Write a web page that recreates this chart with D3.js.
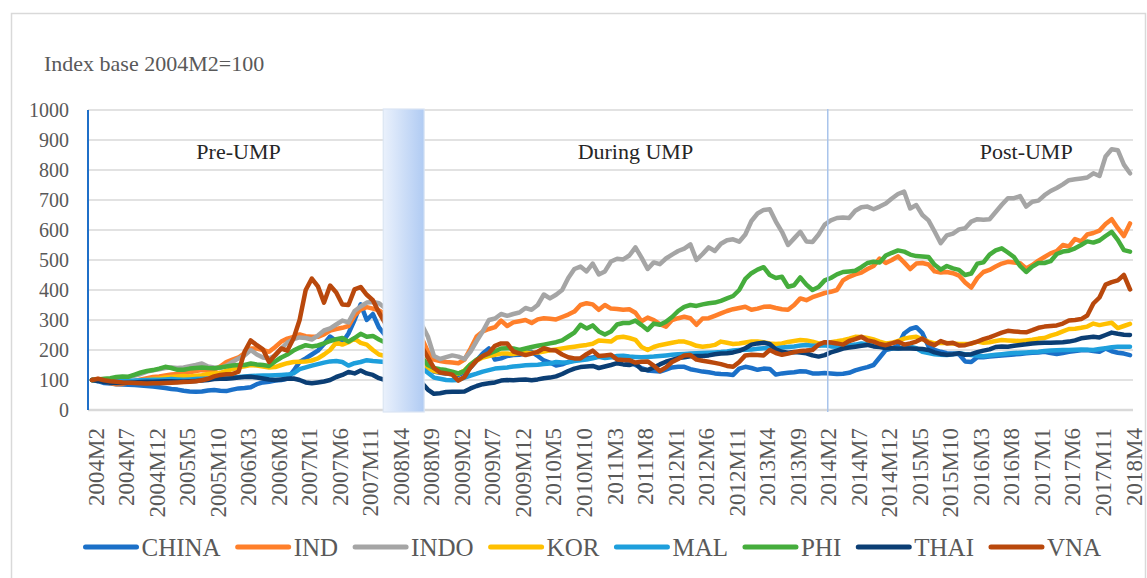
<!DOCTYPE html>
<html>
<head>
<meta charset="utf-8">
<script src="https://cdnjs.cloudflare.com/ajax/libs/d3/7.8.5/d3.min.js"></script>
<style>
body { margin: 0; background: #fff; }
svg text { font-family: "Liberation Serif", "Times New Roman", serif; }
</style>
</head>
<body>
<div id="chart"></div>
<script>
// monthly categories 2004M2 .. 2018M4
var months = [];
for (var yr = 2004; yr <= 2018; yr++) {
	for (var m = 1; m <= 12; m++) {
		if ((yr === 2004 && m < 2) || (yr === 2018 && m > 4)) continue;
		months.push(yr + 'M' + m);
	}
}
var tickLabels = ['2004M2', '2004M7', '2004M12', '2005M5', '2005M10', '2006M3', '2006M8', '2007M1', '2007M6',
	'2007M11', '2008M4', '2008M9', '2009M2', '2009M7', '2009M12', '2010M5', '2010M10', '2011M3', '2011M8',
	'2012M1', '2012M6', '2012M11', '2013M4', '2013M9', '2014M2', '2014M7', '2014M12', '2015M5', '2015M10',
	'2016M3', '2016M8', '2017M1', '2017M6', '2017M11', '2018M4'];
var yTicks = [0, 100, 200, 300, 400, 500, 600, 700, 800, 900, 1000];
var periodLabels = ['Pre-UMP', 'During UMP', 'Post-UMP'];
var periodAt = ['2006M2', '2011M7', '2016M11'];
var names = ['CHINA', 'IND', 'INDO', 'KOR', 'MAL', 'PHI', 'THAI', 'VNA'];
var colors = ['#1b70c8', '#ff7f2a', '#a5a5a5', '#ffc000', '#1e9fdc', '#45ad3c', '#0b3e74', '#b9480c'];

var china = [100,96,90,88,86,85,84,83,82,80,78,76,73,70,68,64,62,61,62,65,
	67,64,63,68,72,73,76,86,92,94,98,100,105,130,160,172,185,198,220,245,
	230,225,255,300,352,300,320,275,250,230,210,190,175,165,160,150,128,124,122,120,
	117,125,142,165,188,205,168,172,180,183,184,190,194,180,165,158,148,152,160,166,
	170,172,175,178,176,178,172,168,160,150,140,132,130,128,135,142,144,144,136,132,
	128,126,122,120,119,117,138,144,140,134,138,137,118,122,124,126,129,128,122,122,
	123,122,120,121,124,132,138,143,150,175,200,205,215,255,270,276,256,212,200,194,
	189,188,186,162,160,176,176,178,180,182,183,185,187,189,191,192,194,190,187,190,
	194,197,199,200,197,194,205,196,191,188,183];
var ind = [100,103,96,90,86,87,92,97,102,106,110,112,115,118,120,122,126,130,133,132,
	134,145,160,168,175,190,205,205,200,194,210,228,238,244,252,246,244,244,252,265,
	270,274,280,315,335,343,338,332,320,300,290,280,270,262,240,195,168,163,160,158,
	156,168,205,245,262,270,276,298,280,292,296,300,290,302,306,304,302,310,318,328,
	350,356,352,334,350,338,337,334,336,324,296,308,300,286,278,300,306,311,306,284,
	305,306,314,322,330,336,340,344,334,338,344,345,340,336,334,350,372,366,376,383,
	390,394,400,432,444,452,458,470,480,505,490,500,512,492,470,488,490,485,462,458,
	460,456,448,425,408,440,460,467,478,488,494,492,489,472,483,498,510,522,530,550,
	545,570,562,585,590,598,620,636,606,580,622];
var indo = [100,102,100,98,100,104,110,115,120,128,132,136,140,142,140,142,146,150,155,145,
	142,140,148,160,172,182,200,185,175,172,182,205,225,236,242,240,235,248,265,272,
	285,298,292,330,345,358,360,356,340,325,318,312,308,305,285,245,180,170,176,182,
	178,170,195,230,262,300,305,320,314,320,325,340,334,350,385,372,384,400,440,470,
	478,462,488,452,462,495,504,502,515,542,508,470,492,486,505,518,530,538,552,500,
	520,542,530,554,566,569,561,585,630,655,667,669,628,594,550,572,594,562,560,585,
	618,632,640,642,640,664,676,678,669,678,688,705,720,728,672,683,650,632,595,556,
	582,588,602,606,628,636,634,636,660,684,706,706,713,678,694,698,716,730,740,752,
	766,769,772,775,789,780,845,869,866,818,789];
var kor = [100,98,96,94,93,92,94,96,98,100,103,105,108,110,112,113,112,114,116,120,
	122,124,130,136,142,146,150,148,145,142,143,150,156,160,161,162,165,172,185,200,
	225,218,226,238,224,218,200,185,180,178,176,175,174,176,170,140,130,126,124,122,
	121,132,152,165,175,180,184,188,188,187,190,191,190,192,195,199,202,205,208,211,
	214,217,221,232,230,228,242,244,240,234,210,200,210,216,220,224,228,228,222,214,
	211,213,217,228,224,220,222,225,228,228,226,222,220,222,227,230,233,232,228,222,
	222,226,229,233,238,244,243,240,235,228,222,224,230,238,242,244,236,228,222,224,
	223,222,220,220,221,228,224,226,230,233,232,231,230,232,234,238,240,248,254,262,
	270,271,274,278,288,283,287,291,273,280,287];
var mal = [100,99,98,97,96,96,97,98,99,100,101,101,102,103,102,101,102,103,104,105,
	106,107,108,109,110,112,113,114,115,115,116,117,118,122,136,142,148,153,158,162,
	163,160,148,156,160,166,163,162,160,158,155,152,150,146,140,124,108,104,100,99,
	100,108,115,121,128,133,138,140,142,145,147,149,150,151,153,155,160,158,159,163,
	166,168,172,177,173,176,180,181,178,177,176,177,178,180,182,184,186,187,188,189,
	190,191,192,193,195,198,200,201,202,204,206,206,205,208,210,212,215,217,214,214,
	216,212,211,213,215,218,222,219,217,212,207,206,205,208,211,206,194,190,186,184,
	183,186,189,186,183,181,179,182,184,186,188,190,191,192,193,194,197,198,199,200,
	200,201,202,201,200,203,206,209,211,211,211];
var phi = [100,102,104,106,110,112,111,118,125,130,133,138,144,140,134,134,138,140,142,140,
	139,142,145,148,150,150,155,152,150,147,162,175,185,198,208,216,212,215,222,230,
	236,240,228,240,254,244,247,235,225,215,208,200,195,190,175,150,140,136,133,128,
	122,130,152,168,180,188,196,205,206,205,200,205,210,214,218,222,226,232,245,258,
	284,272,282,262,252,262,285,290,290,298,283,267,288,284,294,310,330,344,350,347,
	352,356,358,364,372,380,400,437,456,468,476,450,440,444,411,416,442,418,400,410,
	432,440,452,460,462,464,476,490,494,492,515,524,532,528,518,513,512,510,484,468,
	480,472,467,450,455,488,492,518,532,539,525,510,480,460,478,490,490,496,520,528,
	531,539,550,562,558,565,580,594,567,533,528];
var thai = [100,97,93,91,90,90,91,92,93,94,94,95,96,96,95,95,96,97,98,100,
	103,104,104,106,108,110,111,108,105,102,100,102,104,105,100,92,89,92,95,100,
	110,117,127,122,132,122,117,106,100,98,96,95,94,94,91,68,54,56,60,61,
	61,62,72,80,86,89,92,98,100,99,101,102,99,102,106,108,112,120,130,138,
	143,145,147,140,145,150,156,152,150,156,135,133,142,152,161,167,173,176,179,180,
	180,182,186,188,189,192,197,206,218,222,224,220,202,194,191,193,192,189,182,178,
	183,192,198,205,208,211,214,217,212,210,207,206,205,205,205,204,203,200,192,187,
	184,186,189,184,186,193,198,202,210,212,211,214,217,219,222,223,224,224,225,226,
	228,232,239,242,244,242,250,258,254,251,250];
var vna = [100,104,99,96,94,92,91,90,89,88,89,89,90,91,92,93,94,96,99,104,
	112,117,119,120,128,195,232,216,202,160,183,205,198,238,300,400,438,412,358,415,
	392,352,350,402,410,384,366,325,290,265,245,230,215,200,210,175,140,125,122,118,
	98,110,142,165,180,190,214,222,222,195,189,183,188,194,206,200,198,185,176,172,
	172,186,198,180,182,184,168,167,166,158,161,162,148,130,142,160,170,182,183,168,
	164,161,157,153,147,144,160,182,184,183,182,200,190,184,188,193,197,198,200,218,
	226,225,222,218,230,236,244,232,228,220,216,222,228,218,222,228,238,224,216,230,
	222,224,215,216,222,228,236,242,250,258,264,262,260,259,266,274,278,280,282,288,
	298,300,303,315,355,375,418,426,432,450,402];
var seriesValues = [china, ind, indo, kor, mal, phi, thai, vna];

var W = 1147, H = 578;
var plot = { left: 88, right: 1133, top: 110, bottom: 410 };

var svg = d3.select('#chart').append('svg').attr('width', W).attr('height', H);

// chart area border
svg.append('rect')
	.attr('x', 11.5).attr('y', 13.5)
	.attr('width', 1134).attr('height', 600)
	.attr('fill', 'none').attr('stroke', '#d9d9d9').attr('stroke-width', 1.5);

var x = d3.scalePoint().domain(months).range([92, 1130]);
var step = x.step();
var y = d3.scaleLinear().domain([0, 1000]).range([plot.bottom, plot.top]);

svg.append('text')
	.attr('x', 44).attr('y', 70.5)
	.attr('fill', '#595959').style('font-size', '22px')
	.text('Index base 2004M2=100');

// gridlines
svg.append('g').selectAll('line').data(yTicks).join('line')
	.attr('x1', plot.left).attr('x2', plot.right)
	.attr('y1', d => y(d)).attr('y2', d => y(d))
	.attr('stroke', '#d9d9d9')
	.attr('stroke-width', d => d === 0 ? 2.5 : 1.5);

// y tick labels
svg.append('g').selectAll('text').data(yTicks).join('text')
	.attr('x', 69).attr('y', d => y(d))
	.attr('dy', '0.35em')
	.attr('text-anchor', 'end')
	.attr('fill', '#595959').style('font-size', '20px')
	.text(d => d);

// left axis line
svg.append('line')
	.attr('x1', plot.left).attr('x2', plot.left)
	.attr('y1', plot.top).attr('y2', plot.bottom)
	.attr('stroke', '#1f6fc8').attr('stroke-width', 2);

// x tick labels (rotated)
svg.append('g').selectAll('text').data(tickLabels).join('text')
	.attr('transform', d => 'translate(' + x(d) + ',428) rotate(-90)')
	.attr('dy', '0.5em')
	.attr('text-anchor', 'end')
	.attr('fill', '#595959').style('font-size', '23px')
	.text(d => d);

// series lines
var line = d3.line().x((d, i) => x(months[i])).y(d => y(d));
svg.append('g').selectAll('path').data(seriesValues).join('path')
	.attr('d', d => line(d))
	.attr('fill', 'none')
	.attr('stroke', (d, i) => colors[i])
	.attr('stroke-width', 4.5)
	.attr('stroke-linejoin', 'round')
	.attr('stroke-linecap', 'round');

// crisis band
var defs = svg.append('defs');
var grad = defs.append('linearGradient').attr('id', 'bandGrad');
grad.append('stop').attr('offset', '0%').attr('stop-color', '#eaf1fc');
grad.append('stop').attr('offset', '100%').attr('stop-color', '#b0cbf3');
var bandX0 = x('2008M2') - 0.3 * step, bandX1 = x('2008M8') + 0.4 * step;
svg.append('rect')
	.attr('x', bandX0).attr('y', plot.top - 1)
	.attr('width', bandX1 - bandX0).attr('height', plot.bottom - plot.top + 3)
	.attr('fill', 'url(#bandGrad)')
	.attr('stroke', '#dbe5f3').attr('stroke-width', 1.2);

// 2014M2 divider
var divX = x('2014M2') + 0.5 * step;
svg.append('line')
	.attr('x1', divX).attr('x2', divX)
	.attr('y1', plot.top - 1).attr('y2', plot.bottom + 2)
	.attr('stroke', '#a9c4eb').attr('stroke-width', 1.5);

// period labels
svg.append('g').selectAll('text').data(periodLabels).join('text')
	.attr('x', (d, i) => x(periodAt[i]))
	.attr('y', 159)
	.attr('text-anchor', 'middle')
	.attr('fill', '#262626').style('font-size', '22px')
	.text(d => d);

// legend
var legend = svg.append('g');
var lx = 83.5;
names.forEach(function(n, i) {
	legend.append('line')
		.attr('x1', lx + 2).attr('x2', lx + 53)
		.attr('y1', 547).attr('y2', 547)
		.attr('stroke', colors[i]).attr('stroke-width', 5)
		.attr('stroke-linecap', 'round');
	var t = legend.append('text')
		.attr('x', lx + 58).attr('y', 555.5)
		.attr('fill', '#595959').style('font-size', '25px')
		.text(n);
	lx += 58 + t.node().getComputedTextLength() + 15;
});
</script>
</body>
</html>
